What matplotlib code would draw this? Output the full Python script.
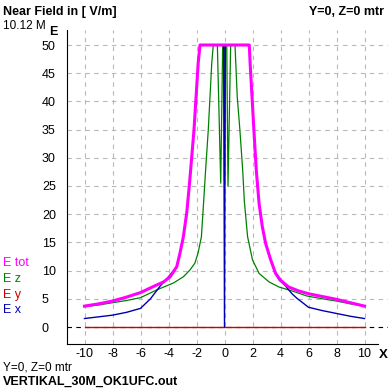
import matplotlib
matplotlib.use("Agg")
import matplotlib.pyplot as plt

# ---- data ----
x_tot = [-10, -9, -8, -7, -6, -5.06, -4.35, -3.88, -3.41, -3.18, -2.94, -2.70, -2.52, -2.42, -2.18, -1.88, -1.75,
         1.77, 1.83, 2.1, 2.27, 2.47, 2.70, 2.94, 3.30, 3.65, 4.0, 4.58, 5.29, 6, 7, 8, 9, 10]
e_tot = [3.7, 4.1, 4.6, 5.3, 6.1, 7.2, 8.0, 8.9, 10.7, 13.1, 16.0, 20.2, 24.9, 27.8, 34.9, 46.8, 50,
         50, 46.8, 34.9, 27.8, 21.9, 17.8, 14.8, 11.9, 9.5, 8.3, 7.1, 6.4, 5.9, 5.4, 4.9, 4.3, 3.7]

x_z = [-10, -9, -8, -7, -6, -4.82, -3.65, -2.94, -2.47, -2.12, -1.89, -1.65, -1.49, -1.35, -1.16, -0.91, -0.8,
       -0.51, -0.27, -0.13, -0.03, 0, 0.03, 0.16, 0.25, 0.44,
       0.75, 0.91, 1.1, 1.30, 1.42, 1.65, 2.0, 2.47, 3.18, 3.88, 4.82, 5.88, 7, 8, 9, 10]
e_z = [3.6, 3.9, 4.3, 4.7, 5.2, 6.6, 7.8, 8.9, 10.1, 11.3, 13.1, 16.0, 22.2, 27.8, 34.9, 46.8, 50,
       50, 25.5, 50, 50, 26.0, 50, 50, 25.0, 50,
       50, 40.8, 34.9, 27.8, 22.2, 16.0, 11.9, 9.5, 8.0, 7.1, 6.4, 5.5, 5.0, 4.6, 4.1, 3.7]

x_y = [-10, 10]
e_y = [0, 0]

x_x = [-10, -9, -8, -7, -6, -5.29, -4.58, -4.0, -3.41, -3.18, -2.94, -2.70, -2.52, -2.42, -2.18, -1.88, -1.75,
       -0.06, 0, 0.06, 1.77, 1.83, 2.1, 2.27, 2.47, 2.70, 2.94, 3.30, 3.65,
       3.88, 4.35, 4.82, 5.17, 6, 7, 8, 9, 10]
e_x = [1.5, 1.8, 2.1, 2.6, 3.3, 5.0, 7.3, 8.9, 10.7, 13.1, 16.0, 20.2, 24.9, 27.8, 34.9, 46.8, 50,
       50, 0, 50, 50, 46.8, 34.9, 27.8, 21.9, 17.8, 14.8, 11.9, 9.5,
       8.4, 7.3, 5.9, 5.1, 3.5, 2.9, 2.4, 1.9, 1.5]

x_ticks = [-10, -8, -6, -4, -2, 0, 2, 4, 6, 8, 10]
y_ticks = [0, 5, 10, 15, 20, 25, 30, 35, 40, 45, 50]

legend_labels = ["E tot", "E z", "E y", "E x"]
title_left = "Near Field in [ V/m]"
title_right = "Y=0, Z=0 mtr"
freq_text = "10.12 M"
bottom_text = "Y=0, Z=0 mtr"
file_text = "VERTIKAL_30M_OK1UFC.out"

C_TOT = "#ff00ff"
C_Z = "#008000"
C_Y = "#d00000"
C_X = "#0000b0"

W = H = 388
plt.rcParams['font.family'] = ['Liberation Sans', 'DejaVu Sans']
fig = plt.figure(figsize=(W / 100, H / 100), dpi=100)

def fx(px):
    return px / W

def fy(py):
    return 1 - py / H

ax_left, ax_right, ax_top, ax_bottom = 67, 388, 30, 344
ax = fig.add_axes([fx(ax_left), fy(ax_bottom), (ax_right - ax_left) / W, (ax_bottom - ax_top) / H])

x0px, sx = 224.5, 14.0
y0px, sy = 327.0, 5.64
ax.set_xlim((ax_left - x0px) / sx, (ax_right - x0px) / sx)
ax.set_ylim((y0px - ax_bottom) / sy, (y0px - ax_top) / sy)

for s in ["top", "right"]:
    ax.spines[s].set_visible(False)
ax.spines["left"].set_color("black")
ax.spines["bottom"].set_color("black")
ax.spines["bottom"].set_bounds((ax_left - x0px) / sx, (378 - x0px) / sx)

ax.set_xticks(x_ticks)
ax.set_xticklabels([str(v) for v in x_ticks])
ax.set_yticks(y_ticks)
ax.set_yticklabels([str(v) for v in y_ticks])
ax.tick_params(axis="both", length=0, labelsize=9)
ax.tick_params(axis="x", pad=3)
ax.tick_params(axis="y", pad=18)
for lab in ax.get_yticklabels():
    lab.set_horizontalalignment("left")

ax.grid(True, color="#b8b8b8", linestyle=(0, (4, 4)), linewidth=0.8)
ax.set_axisbelow(True)
ax.axhline(0, color="black", linestyle=(0, (4, 4)), linewidth=0.8, zorder=1.5)

ax.plot(x_y, e_y, color=C_Y, linewidth=1.0, zorder=2)
ax.plot(x_z, e_z, color=C_Z, linewidth=0.9, zorder=3)
ax.plot(x_x, e_x, color=C_X, linewidth=1.0, zorder=4)
ax.plot(x_tot, e_tot, color=C_TOT, linewidth=2.2, zorder=5, solid_joinstyle="round")

# texts
fig.text(fx(3), fy(12), title_left, fontsize=9, fontweight="bold", ha="left", va="center")
fig.text(fx(384), fy(12), title_right, fontsize=9, fontweight="bold", ha="right", va="center")
fig.text(fx(3), fy(26), freq_text, fontsize=8.5, ha="left", va="center")
fig.text(fx(53.5), fy(32), "E", fontsize=9, fontweight="bold", ha="center", va="center")
fig.text(fx(383), fy(355), "X", fontsize=9.5, fontweight="bold", ha="center", va="center")
fig.text(fx(3), fy(368), bottom_text, fontsize=8.5, ha="left", va="center")
fig.text(fx(3), fy(382), file_text, fontsize=9, fontweight="bold", ha="left", va="center")

leg_colors = [C_TOT, C_Z, C_Y, C_X]
leg_y = [263, 279, 295, 310]
for lab, col, yy in zip(legend_labels, leg_colors, leg_y):
    fig.text(fx(3), fy(yy), lab, fontsize=9, color=col, ha="left", va="center")

fig.savefig("out.png", dpi=100)
